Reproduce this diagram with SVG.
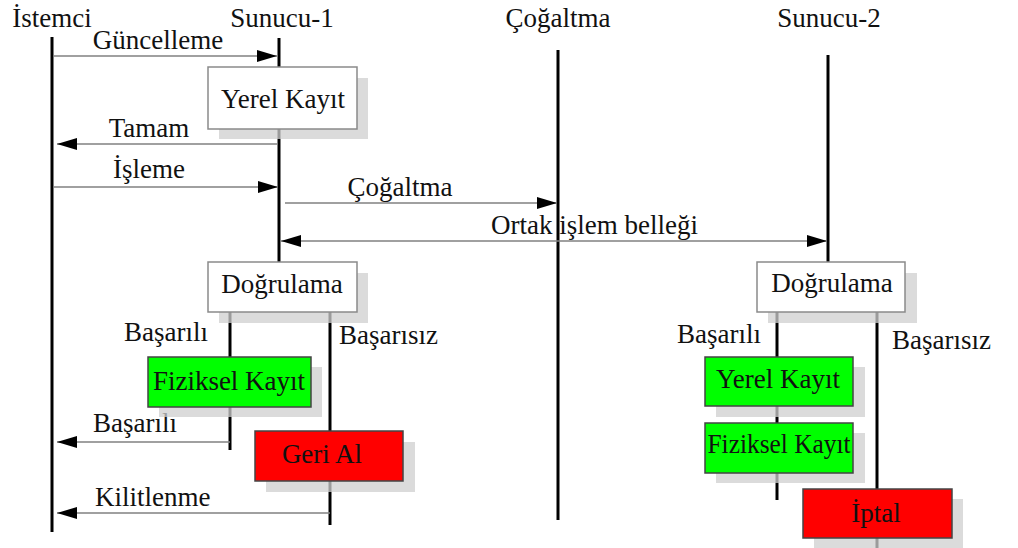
<svg xmlns="http://www.w3.org/2000/svg" width="1018" height="548" viewBox="0 0 1018 548">
<style>
text{font-family:"Liberation Serif","Times New Roman",serif;font-size:27px;fill:#111}
.life{stroke:#000;stroke-width:3;fill:none}
.msg{stroke:#808080;stroke-width:1.5;fill:none}
.shadow{fill:#cfcfcf;opacity:0.75}
.wbox{fill:#fff;stroke:#8a8a8a;stroke-width:1.5}
.gbox{fill:#00ff00;stroke:#444;stroke-width:1.5}
.rbox{fill:#ff0000;stroke:#444;stroke-width:1.5}
.c{text-anchor:middle}
.e{text-anchor:end}
</style>
<defs>
<marker id="ah" markerUnits="userSpaceOnUse" markerWidth="20" markerHeight="12" refX="20" refY="6" orient="auto-start-reverse">
<path d="M0,0 L20,6 L0,12 z" fill="#000"/>
</marker>
</defs>
<g id="headers">
<text class="c" x="52" y="27">İstemci</text>
<text class="c" x="282" y="27">Sunucu-1</text>
<text class="c" x="558" y="27">Çoğaltma</text>
<text class="c" x="829" y="27">Sunucu-2</text>
</g>
<g id="connectors">
<line class="life" x1="52" y1="37" x2="52" y2="532"/>
<line class="life" x1="279" y1="38" x2="279" y2="262"/>
<line class="life" x1="558" y1="50" x2="558" y2="520"/>
<line class="life" x1="828" y1="55" x2="828" y2="262"/>
<line class="life" x1="230" y1="312" x2="230" y2="450"/>
<line class="life" x1="330" y1="312" x2="330" y2="525"/>
<line class="life" x1="777" y1="312" x2="777" y2="500"/>
<line class="life" x1="877" y1="312" x2="877" y2="548"/>
<line class="msg" x1="54" y1="56" x2="277" y2="56" marker-end="url(#ah)"/>
<line class="msg" x1="278" y1="144" x2="57" y2="144" marker-end="url(#ah)"/>
<line class="msg" x1="54" y1="187" x2="278" y2="187" marker-end="url(#ah)"/>
<line class="msg" x1="285" y1="203" x2="557" y2="203" marker-end="url(#ah)"/>
<line class="msg" x1="281" y1="241" x2="827" y2="241" marker-start="url(#ah)" marker-end="url(#ah)"/>
<line class="msg" x1="230" y1="442" x2="57" y2="442" marker-end="url(#ah)"/>
<line class="msg" x1="330" y1="513" x2="57" y2="513" marker-end="url(#ah)"/>
<text class="c" x="158" y="49">Güncelleme</text>
<text class="c" x="149" y="137">Tamam</text>
<text class="c" x="149" y="178">İşleme</text>
<text class="c" x="400" y="196">Çoğaltma</text>
<text x="491" y="234">Ortak işlem belleği</text>
<text class="e" x="208" y="341">Başarılı</text>
<text x="339" y="344">Başarısız</text>
<text x="93" y="432">Başarılı</text>
<text x="95" y="506">Kilitlenme</text>
<text class="e" x="761" y="343">Başarılı</text>
<text x="892" y="349">Başarısız</text>
</g>
<g id="yerel-kayit-1">
<rect class="shadow" x="219" y="78" width="149" height="61"/>
<rect class="wbox" x="208" y="67" width="149" height="62"/>
<text class="c" x="283" y="108">Yerel Kayıt</text>
</g>
<g id="dogrulama-1">
<rect class="shadow" x="219" y="273" width="149" height="50"/>
<rect class="wbox" x="208" y="262" width="149" height="50"/>
<text class="c" x="282" y="293">Doğrulama</text>
</g>
<g id="fiziksel-kayit-1">
<rect class="shadow" x="159" y="367" width="163" height="50"/>
<rect class="gbox" x="148" y="357" width="163" height="50"/>
<text class="c" x="229" y="390">Fiziksel Kayıt</text>
</g>
<g id="geri-al">
<rect class="shadow" x="266" y="442" width="149" height="50"/>
<rect class="rbox" x="255" y="431" width="148" height="50"/>
<text class="c" x="322" y="463">Geri Al</text>
</g>
<g id="dogrulama-2">
<rect class="shadow" x="768" y="273" width="149" height="50"/>
<rect class="wbox" x="757" y="262" width="148" height="50"/>
<text class="c" x="832" y="292">Doğrulama</text>
</g>
<g id="yerel-kayit-2">
<rect class="shadow" x="716" y="367" width="149" height="50"/>
<rect class="gbox" x="705" y="357" width="148" height="49"/>
<text class="c" x="778" y="388">Yerel Kayıt</text>
</g>
<g id="fiziksel-kayit-2">
<rect class="shadow" x="716" y="433" width="149" height="50"/>
<rect class="gbox" x="705" y="423" width="148" height="50"/>
<text class="c" x="779" y="453" textLength="143" lengthAdjust="spacingAndGlyphs">Fiziksel Kayıt</text>
</g>
<g id="iptal">
<rect class="shadow" x="814" y="499" width="149" height="49"/>
<rect class="rbox" x="803" y="489" width="149" height="49"/>
<text class="c" x="876" y="522">İptal</text>
</g>
</svg>
